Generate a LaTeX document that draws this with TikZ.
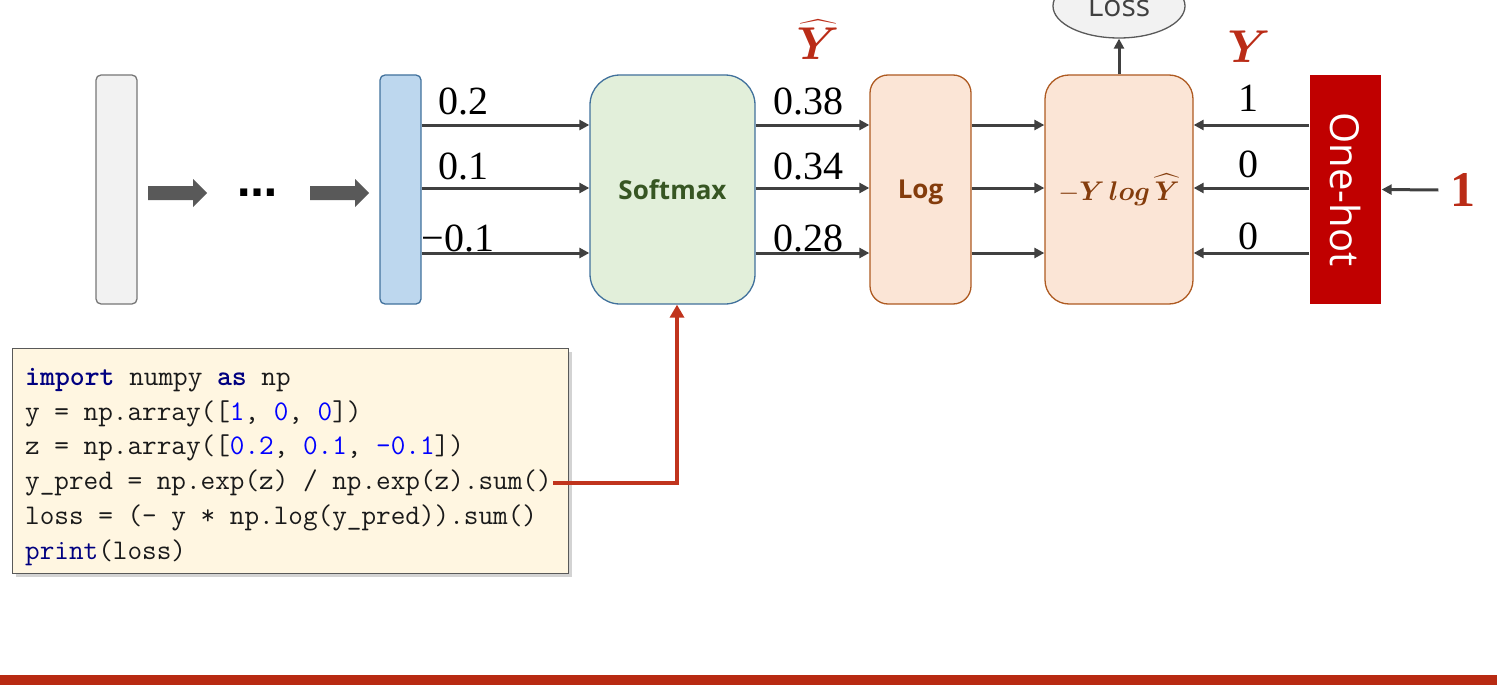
\RequirePackage{fix-cm}
\documentclass[tikz,border=0pt]{standalone}
\usepackage{fontspec}
\usepackage{amsmath,bm}
\usetikzlibrary{arrows.meta,shadows,shapes.geometric}
\newfontfamily\boxfont{Open Sans}
\newfontfamily\numfont{Liberation Serif}
\newfontfamily\dotfont{DejaVu Sans}

\definecolor{arrowgray}{HTML}{404040}
\definecolor{blockgray}{HTML}{595959}
\definecolor{gfill}{HTML}{F2F2F2}
\definecolor{gdraw}{HTML}{767676}
\definecolor{bfill}{HTML}{BDD7EE}
\definecolor{bdraw}{HTML}{41719C}
\definecolor{smfill}{HTML}{E2EFDA}
\definecolor{smtext}{HTML}{375623}
\definecolor{orfill}{HTML}{FBE5D6}
\definecolor{ordraw}{HTML}{AE5A21}
\definecolor{ortext}{HTML}{843C0C}
\definecolor{ohfill}{HTML}{C00000}
\definecolor{accent}{HTML}{BA2C17}
\definecolor{barred}{HTML}{B82A12}
\definecolor{connred}{HTML}{C0341D}
\definecolor{codefill}{HTML}{FFF6E1}
\definecolor{codedraw}{HTML}{595959}
\definecolor{kw}{HTML}{000080}
\definecolor{num}{HTML}{0000FF}
\definecolor{codetext}{HTML}{1A1A1A}

\tikzset{
  col/.style={minimum height=229pt, inner sep=0pt, line width=1.3pt},
  graybox/.style={col, minimum width=41pt, rounded corners=5pt, fill=gfill, draw=gdraw},
  bluebox/.style={col, minimum width=41pt, rounded corners=5pt, fill=bfill, draw=bdraw},
  smbox/.style={col, minimum width=165pt, rounded corners=30pt, fill=smfill, draw=bdraw,
    font=\boxfont\bfseries\fontsize{26}{26}\selectfont, text=smtext},
  opbox/.style={col, rounded corners=24pt, fill=orfill, draw=ordraw, text=ortext},
  flow/.style={draw=arrowgray, line width=3pt, -{Triangle[length=10pt,width=10pt]}},
  val/.style={font=\numfont\fontsize{40}{40}\selectfont, inner sep=0pt},
  ylab/.style={font=\fontsize{46}{46}\selectfont, text=accent, inner sep=0pt},
  codeline/.style={anchor=base west, inner sep=0pt, text=codetext,
    font=\ttfamily\fontsize{28.4}{35}\selectfont},
  block/.style={fill=blockgray},
}

\begin{document}
\begin{tikzpicture}[x=1pt, y=-1pt]
\useasboundingbox (0,0) rectangle (1497,685);

% layer columns
\node[graybox] (g) at (116.5,189.5) {};
\node[bluebox] (b) at (400.5,189.5) {};
\node[smbox] (sm) at (672.5,189.5) {Softmax};
\node[opbox, minimum width=101pt, rounded corners=18pt, text depth=0pt,
      font=\boxfont\bfseries\fontsize{26}{26}\selectfont] (lg) at (920.5,189.5) {Log};
\node[opbox, minimum width=148pt] (ce) at (1119,189.5)
  {\fontsize{27}{27}\selectfont$-\bm{Y}\,\bm{log}\,\bm{\widehat{Y}}$};
\node[col, minimum width=71pt, fill=ohfill, draw=none] (oh) at (1345.5,189.5)
  {\rotatebox{-90}{\boxfont\fontsize{40}{40}\selectfont\color{white}One-hot}};
\node[ellipse, minimum width=132pt, minimum height=64pt, inner sep=0pt,
      fill=gfill, draw=blockgray, line width=1.3pt,
      font=\boxfont\fontsize{30}{30}\selectfont, text=arrowgray] (loss) at (1119,6) {Loss};

% block arrows and ellipsis between the first columns
\fill[block] (148,186) -- (193,186) -- (193,179) -- (207,193) -- (193,207) -- (193,200) -- (148,200) -- cycle;
\node[inner sep=0pt, font=\dotfont\bfseries\fontsize{40}{40}\selectfont] (dots) at (257,193) {…};
\fill[block] (310,186) -- (355,186) -- (355,179) -- (369,193) -- (355,207) -- (355,200) -- (310,200) -- cycle;

% row heights
\coordinate (r1) at (0,125);
\coordinate (r2) at (0,188);
\coordinate (r3) at (0,253);

\foreach \r in {r1,r2,r3} {
  \draw[flow] (b.east |- \r) -- (sm.west |- \r);
  \draw[flow] (sm.east |- \r) -- (lg.west |- \r);
  \draw[flow] (lg.east |- \r) -- (ce.west |- \r);
  \draw[flow] (oh.west |- \r) -- (ce.east |- \r);
}
\draw[flow] (ce.north) -- (loss.south);

% values on the rows
\node[val] (z1) at (463,101) {0.2};
\node[val] (z2) at (463,166) {0.1};
\node[val] (z3) at (458,238) {\textminus0.1};
\node[val] (p1) at (808,101) {0.38};
\node[val] (p2) at (808,166) {0.34};
\node[val] (p3) at (808,238) {0.28};
\node[val] (t1) at (1248,98) {1};
\node[val] (t2) at (1248,164) {0};
\node[val] (t3) at (1248,236) {0};

\node[ylab] (yhat) at (818,40) {$\bm{\widehat{Y}}$};
\node[ylab] (ytrue) at (1249,47) {$\bm{Y}$};

% class index fed to the one-hot encoder
\node[inner sep=0pt, text=accent, font=\numfont\bfseries\fontsize{50}{50}\selectfont] (cls) at (1463,190) {1};
\draw[flow] (cls.west) ++(-12,0) coordinate (clsout) (clsout) -- (oh.east);

% code listing
\node[draw=codedraw, fill=codefill, line width=1.3pt, minimum width=556pt, minimum height=225pt,
      inner sep=0pt, anchor=north west, drop shadow={shadow xshift=3pt, shadow yshift=-3pt, opacity=0.35}]
      (code) at (12,348) {};
\node[codeline] (c1) at (25,385) {\textbf{\color{kw}import} numpy \textbf{\color{kw}as} np};
\node[codeline] (c2) at (25,420) {y = np.array([{\color{num}1}, {\color{num}0}, {\color{num}0}])};
\node[codeline] (c3) at (25,454) {z = np.array([{\color{num}0.2}, {\color{num}0.1}, {\color{num}-0.1}])};
\node[codeline] (c4) at (25,489) {y\_pred = np.exp(z) / np.exp(z).sum()};
\node[codeline] (c5) at (25,524) {loss = (- y * np.log(y\_pred)).sum()};
\node[codeline] (c6) at (25,559) {{\color{kw}print}(loss)};

\coordinate (ypred) at (553,483);
\draw[draw=connred, line width=4pt, -{Triangle[length=13pt,width=14pt]}]
  (ypred) -| ([xshift=4.5pt]sm.south);

% footer bar
\fill[barred] (0,675) rectangle (1497,685);
\end{tikzpicture}
\end{document}
